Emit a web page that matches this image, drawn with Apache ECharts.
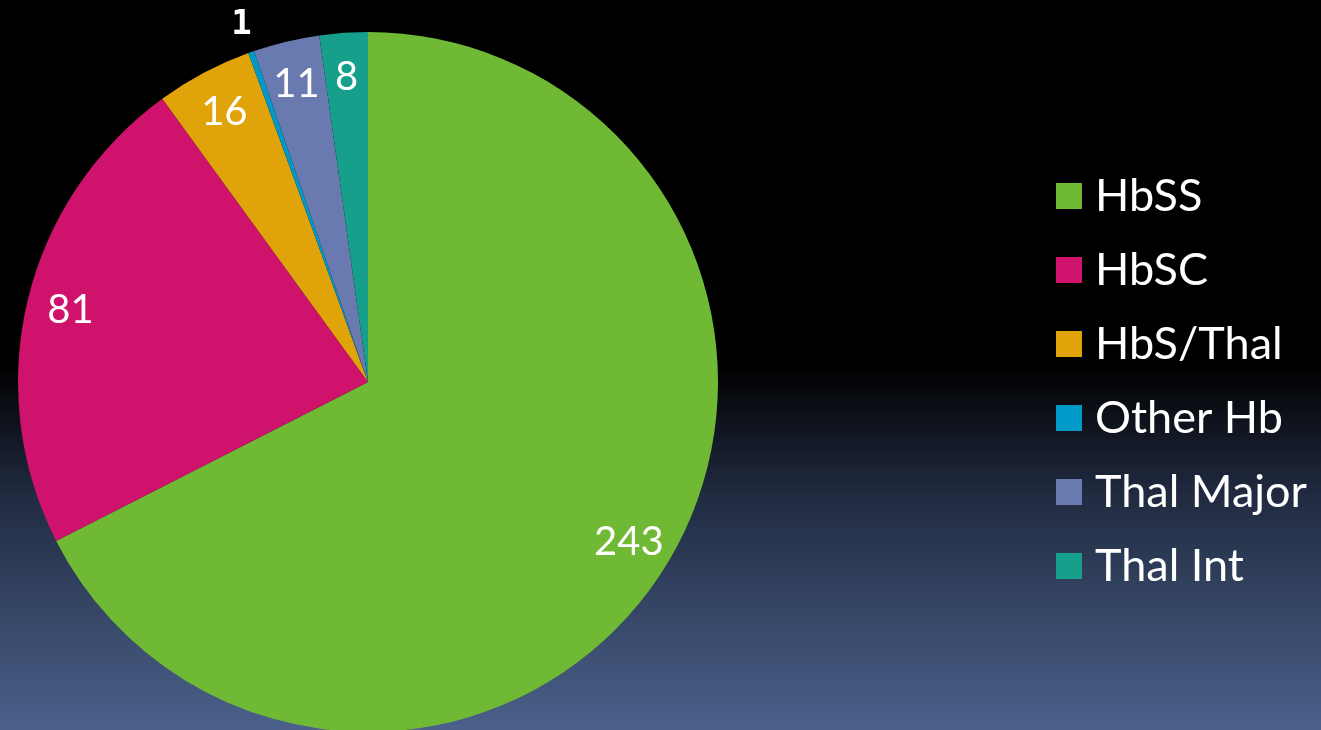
<!DOCTYPE html>
<html>
<head>
<meta charset="utf-8">
<script src="https://cdn.jsdelivr.net/npm/echarts@6/dist/echarts.min.js"></script>
<style>
  html, body { margin: 0; padding: 0; background: #000; }
  #pieChart { width: 1321px; height: 730px; }
</style>
</head>
<body>
<div id="pieChart"></div>
<script>
// categories and counts
const categories = ['HbSS', 'HbSC', 'HbS/Thal', 'Other Hb', 'Thal Major', 'Thal Int']
const counts = [243, 81, 16, 1, 11, 8]
const sliceColors = ['#70b935', '#cf126b', '#e0a40a', '#0099c8', '#687ab0', '#16a08b']
// this one slice is labelled outside the pie
const outsideLabel = 'Other Hb'

const chartDom = document.getElementById('pieChart')
const pieChart = echarts.init(chartDom)

const pieData = categories.map((name, i) => ({ name: name, value: counts[i] }))

const option = {
  backgroundColor: new echarts.graphic.LinearGradient(0, 0, 0, 1, [
    { offset: 0, color: '#000000' },
    { offset: 0.5, color: '#000000' },
    { offset: 0.68, color: '#212b41' },
    { offset: 0.84, color: '#364766' },
    { offset: 1, color: '#4b608b' }
  ]),
  color: sliceColors,
  legend: {
    orient: 'vertical',
    left: 1056,
    top: 172,
    padding: 0,
    icon: 'rect',
    itemWidth: 26,
    itemHeight: 26,
    itemGap: 26,
    data: categories,
    textStyle: {
      color: '#ffffff',
      fontSize: 45,
      lineHeight: 48,
      fontFamily: 'Lato',
      padding: [0, 0, 0, 8]
    }
  },
  series: [
    {
      name: 'main',
      type: 'pie',
      center: [368, 382],
      radius: 350,
      startAngle: 90,
      clockwise: true,
      data: pieData,
      label: { show: false },
      labelLine: { show: false },
      itemStyle: { borderWidth: 0 },
      emphasis: { scale: false }
    },
    {
      name: 'labelsInside',
      type: 'pie',
      center: [368, 382],
      radius: [256, 350],
      startAngle: 90,
      silent: true,
      data: pieData.map(d => ({
        name: d.name,
        value: d.value,
        label: { show: d.name !== outsideLabel }
      })),
      itemStyle: { color: 'transparent', borderWidth: 0 },
      label: {
        show: true,
        position: 'inside',
        formatter: '{c}',
        color: '#ffffff',
        fontSize: 40,
        fontFamily: 'Lato'
      },
      labelLine: { show: false },
      emphasis: { disabled: true }
    },
    {
      name: 'labelsOutside',
      type: 'pie',
      center: [368, 382],
      radius: [350, 402],
      startAngle: 90,
      silent: true,
      data: pieData.map(d => ({
        name: d.name,
        value: d.value,
        label: { show: d.name === outsideLabel }
      })),
      itemStyle: { color: 'transparent', borderWidth: 0 },
      label: {
        show: true,
        position: 'inside',
        formatter: '{c}',
        color: '#ffffff',
        fontSize: 34,
        fontWeight: 'bold',
        fontFamily: 'DejaVu Sans Mono'
      },
      labelLine: { show: false },
      emphasis: { disabled: true }
    }
  ]
}

option && pieChart.setOption(option)
</script>
</body>
</html>
